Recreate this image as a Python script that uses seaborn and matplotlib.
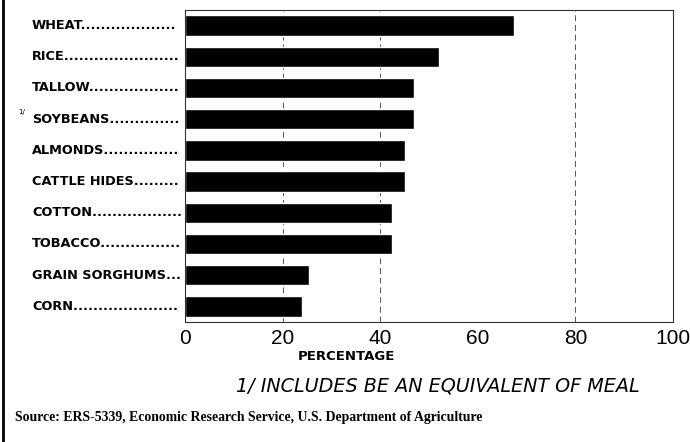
import seaborn as sns
import pandas as pd
import matplotlib.pyplot as plt
from matplotlib.lines import Line2D
from matplotlib import transforms

# values (percent)
crops = ['WHEAT', 'RICE', 'TALLOW', 'SOYBEANS', 'ALMONDS',
         'CATTLE HIDES', 'COTTON', 'TOBACCO', 'GRAIN SORGHUMS', 'CORN']
share = [67.5, 52, 47, 47, 45, 45, 42.5, 42.5, 25.5, 24]
xticks = [0, 20, 40, 60, 80, 100]

df = pd.DataFrame({'Crop': crops, 'Percent': share})

sns.set_theme(style='white')
plt.rcParams['font.family'] = ['DejaVu Sans']
plt.rcParams['text.color'] = 'black'
plt.rcParams['xtick.color'] = 'black'

W, H = 690, 442
fig = plt.figure(figsize=(W / 100, H / 100), dpi=100)
ax = fig.add_axes([185 / W, 1 - 322 / H, (673 - 185) / W, (322 - 10) / H])

sns.barplot(data=df, x='Percent', y='Crop', orient='h', color='black',
            saturation=1, width=0.65, ax=ax)

ax.set_xlim(0, 100)
ax.set_xticks(xticks)
ax.set_xticklabels([str(t) for t in xticks], fontsize=15,
                   family='Liberation Sans', color='black')
ax.tick_params(axis='x', length=0, pad=5)
ax.tick_params(axis='y', length=0)
ax.set_yticklabels([])
ax.set_xlabel('')
ax.set_ylabel('')
for t in [20, 40, 80]:
    ax.axvline(t, color='#555555', lw=0.7, ls=(0, (6, 4)), zorder=0)
for s in ax.spines.values():
    s.set_color('#333333')
    s.set_linewidth(0.8)

# category labels with dotted leaders
trans = transforms.blended_transform_factory(fig.transFigure, ax.transData)
renderer = fig.canvas.get_renderer()
probe = fig.text(0, 0, '.' * 20, fontsize=9.3, fontweight='bold')
dotw = probe.get_window_extent(renderer).width / 20
probe.remove()
for i, name in enumerate(crops):
    t = fig.text(32 / W, i, name, transform=trans, fontsize=9.3,
                 fontweight='bold', va='center', ha='left')
    w = t.get_window_extent(renderer).width
    n = int((183 - 32 - w - 1) / dotw)
    t.set_text(name + '.' * max(n, 0))

# footnote marker on soybeans
fig.text(18 / W, 1 - 112 / H, '1/', fontsize=5, va='center', ha='left')

fig.text(346 / W, 1 - 356 / H, 'PERCENTAGE', fontsize=9.5, fontweight='bold',
         ha='center', va='center')
fig.text(236 / W, 1 - 386 / H, '1/ INCLUDES BE AN EQUIVALENT OF MEAL',
         fontsize=13.8, style='italic', family='DejaVu Sans',
         ha='left', va='center')
fig.text(15 / W, 1 - 418 / H,
         'Source: ERS-5339, Economic Research Service, '
         'U.S. Department of Agriculture',
         fontsize=9.9, fontweight='bold', family='Liberation Serif',
         ha='left', va='center')

# scanned page border on the left
fig.add_artist(Line2D([3 / W, 3 / W], [0, 1], color='black', lw=2,
                      transform=fig.transFigure))

fig.savefig('out.png', dpi=100)
